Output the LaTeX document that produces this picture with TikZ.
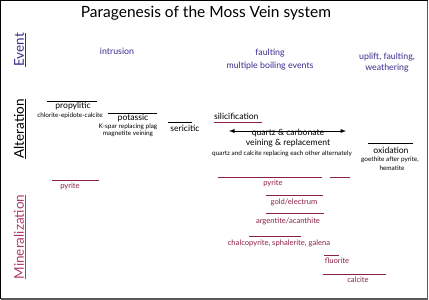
\documentclass[tikz,border=0pt]{standalone}
\usepackage{fontspec}
\setmainfont{Lato}
\definecolor{evtblue}{RGB}{58,42,140}
\definecolor{minred}{RGB}{140,32,72}
\definecolor{minpink}{RGB}{176,58,108}

\begin{document}
\begin{tikzpicture}[x=1pt,y=-1pt,
  txt/.style={inner sep=0pt,font=\fontsize{8.6}{10.3}\selectfont},
  tiny/.style={inner sep=0pt,font=\fontsize{6.4}{7.7}\selectfont},
  side/.style={inner sep=0pt,rotate=90,font=\fontsize{13.5}{16.2}\selectfont},
  evt/.style={txt,text=evtblue,font=\fontsize{8.8}{10.6}\selectfont},
  mnl/.style={txt,text=minred,font=\fontsize{7.6}{9.1}\selectfont},
  bar/.style={line width=0.9pt},
  minbar/.style={line width=0.9pt,draw=minred}]
\path[use as bounding box] (0,0) rectangle (429,300);
\draw[line width=1pt] (0.5,0.5) rectangle (427,298.5);
\draw[line width=1.6pt,black!65] (427.4,1) -- (427.4,299) -- (1,299);
\node[inner sep=0pt,font=\fontsize{15.5}{18.6}\selectfont] (title) at (206,13) {Paragenesis of the Moss Vein system};
\node[side,text=evtblue] (event) at (20,50) {\underline{Event}};
\node[side] (alteration) at (20,129) {\underline{Alteration}};
\node[side,text=minpink] (mineralization) at (20,237) {\underline{Mineralization}};
\node[evt] (intrusion) at (117,51) {intrusion};
\node[evt] (faulting) at (270,53) {faulting};
\node[evt] (boiling) at (270,66) {multiple boiling events};
\node[evt] (uplift) at (387,57) {uplift, faulting,};
\node[evt] (weathering) at (387,68) {weathering};
\draw[bar] (47,101) -- (97,101);
\node[txt] (propylitic) at (73,106) {propylitic};
\node[tiny] (chlorite) at (70,116) {chlorite-epidote-calcite};
\draw[bar] (108,113) -- (157,113);
\node[txt] (potassic) at (133,118) {potassic};
\node[tiny] (kspar) at (128,127) {K-spar replacing plag};
\node[tiny] (magnetite) at (128,134) {magnetite veining};
\draw[bar] (168,122) -- (192,122);
\node[txt] (sericitic) at (185,128) {sericitic};
\node[txt,anchor=west] (silicification) at (214,116) {silicification};
\draw[minbar,line width=0.7pt] (214,122) -- (262,122);
\coordinate (qcleft) at (229,131);
\coordinate (qcright) at (346,131);
\draw[bar,<->,>=latex] (qcleft) -- (qcright);
\node[txt] (quartzcarb) at (288,133) {quartz \& carbonate};
\node[txt] (veining) at (288,143) {veining \& replacement};
\node[tiny] (alternately) at (282,154) {quartz and calcite replacing each other alternately};
\draw[bar] (368,143) -- (413,143);
\node[txt] (oxidation) at (391,150) {oxidation};
\node[tiny] (goethite) at (390,160) {goethite after pyrite,};
\node[tiny] (hematite) at (392,168) {hematite};
\draw[minbar] (52,180) -- (99,180);
\node[mnl] (pyriteearly) at (70,186) {pyrite};
\draw[minbar] (218,177) -- (322,177);
\draw[minbar] (330,177) -- (350,177);
\node[mnl] (pyrite) at (273,183) {pyrite};
\draw[minbar] (266,195) -- (323,195);
\node[mnl] (gold) at (294,202) {gold/electrum};
\draw[minbar] (266,213) -- (324,213);
\node[mnl] (argentite) at (288,221) {argentite/acanthite};
\draw[minbar] (249,236) -- (301,236);
\node[mnl] (chalcopyrite) at (279,243) {chalcopyrite, sphalerite, galena};
\draw[minbar] (324,255) -- (339,255);
\node[mnl] (fluorite) at (337,261) {fluorite};
\draw[minbar] (323,274) -- (386,274);
\node[mnl] (calcite) at (358,280) {calcite};
\end{tikzpicture}
\end{document}
